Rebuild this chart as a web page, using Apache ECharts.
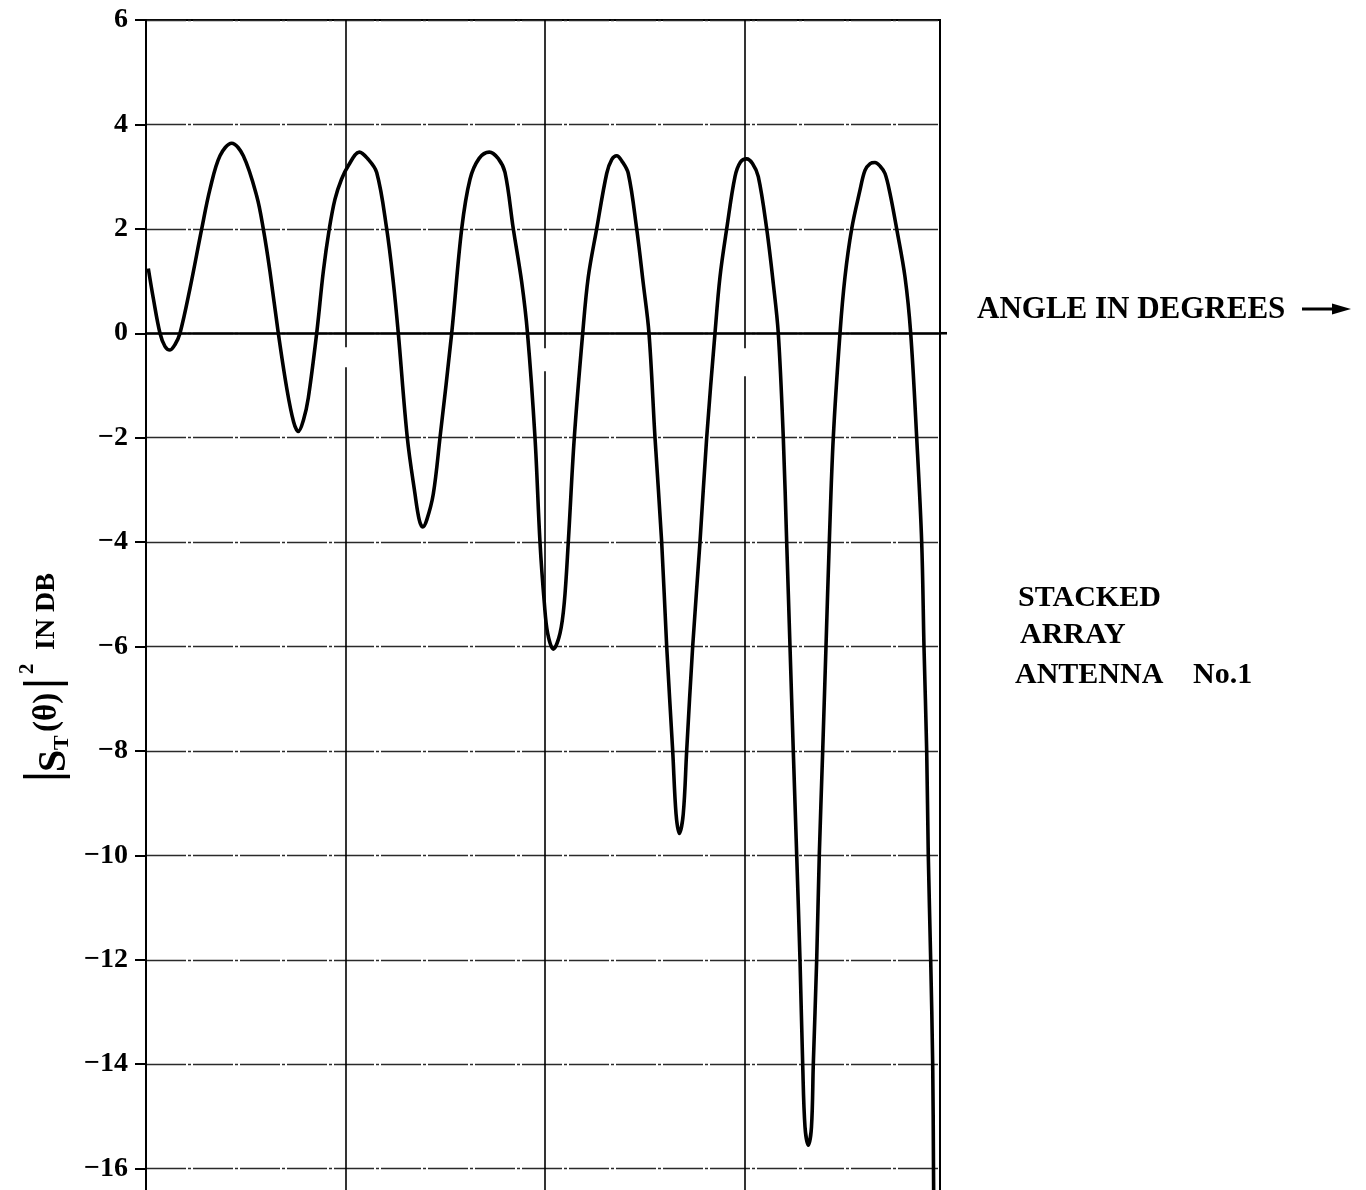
<!DOCTYPE html>
<html>
<head>
<meta charset="utf-8">
<script src="https://cdn.jsdelivr.net/npm/echarts@6/dist/echarts.min.js"></script>
<style>
  html, body { margin: 0; padding: 0; background: #fff; }
  #chart { width: 1366px; height: 1190px; }
</style>
</head>
<body>
<div id="chart"></div>
<script>
// ---- data (x: angle in chart units, gridlines every 1; y: |S_T(θ)|² in dB) ----
const angle = [
  0.0115, 0.0366, 0.0702, 0.095, 0.1203, 0.145, 0.1704, 0.2206, 0.2792, 0.3208,
  0.3709, 0.4296, 0.4877, 0.5549, 0.5880, 0.6216, 0.6632, 0.7053, 0.74, 0.7634,
  0.79, 0.8135, 0.8556, 0.8887, 0.9188, 0.9474, 0.98, 1.0140, 1.0692, 1.11,
  1.1564, 1.2065, 1.2396, 1.2647, 1.3098, 1.3484, 1.370, 1.3870, 1.407, 1.4401,
  1.4737, 1.5323, 1.5825, 1.6241, 1.67, 1.7208, 1.765, 1.7995, 1.8411, 1.8832,
  1.9123, 1.9499, 1.9749, 1.9965, 2.0135, 2.0416, 2.0752, 2.0967, 2.1168, 2.1469,
  2.1890, 2.2170, 2.2591, 2.3093, 2.335, 2.3594, 2.385, 2.4175, 2.4596, 2.4927,
  2.5213, 2.5514, 2.5849, 2.6100, 2.6401, 2.657, 2.6732, 2.693, 2.7102,
  2.7403, 2.7769, 2.8105, 2.8521, 2.8772, 2.9108, 2.9524, 2.98, 3.0110,
  3.04, 3.0692, 3.1113, 3.1444, 3.1694, 3.1945, 3.2115, 3.2281, 3.2446, 3.2617,
  3.2782, 3.2917, 3.3033, 3.3198, 3.3358, 3.3449, 3.3619, 3.3749, 3.3920, 3.4085,
  3.4251, 3.4451, 3.4787, 3.5038, 3.5373, 3.5789, 3.6040, 3.63, 3.6541, 3.68,
  3.7043, 3.7293, 3.7629, 3.8045, 3.8331, 3.8632, 3.8882, 3.8997, 3.9133, 3.9213,
  3.9333, 3.9434, 3.9474, 3.9499
];
const gainDb = [
  1.24, 0.67, 0.0, -0.25, -0.32, -0.22, 0.0, 0.86, 2.0, 2.76,
  3.40, 3.64, 3.40, 2.63, 2.0, 1.18, 0.0, -1.05, -1.7, -1.88,
  -1.65, -1.24, 0.0, 1.18, 2.0, 2.57, 2.95, 3.21, 3.47, 3.35,
  3.08, 2.0, 0.98, 0.0, -2.0, -3.08, -3.58, -3.71, -3.58, -3.08,
  -2.0, 0.0, 2.0, 2.95, 3.35, 3.47, 3.35, 3.08, 2.0, 0.98,
  0.0, -2.0, -4.0, -5.16, -5.75, -6.05, -5.75, -5.16, -4.0, -2.0,
  0.0, 1.08, 2.0, 3.06, 3.33, 3.40, 3.3, 3.06, 2.0, 0.95,
  0.0, -2.0, -4.0, -6.0, -8.0, -9.21, -9.58, -9.21, -8.0,
  -6.0, -4.0, -2.0, 0.0, 1.08, 2.0, 3.0, 3.28, 3.34,
  3.25, 3.0, 2.0, 0.95, 0.0, -2.0, -4.0, -6.0, -8.0, -10.0,
  -12.0, -14.0, -15.2, -15.55, -15.2, -14.0, -12.0, -10.0, -8.0, -6.0,
  -4.0, -2.0, 0.0, 1.08, 2.0, 2.74, 3.12, 3.25, 3.27, 3.2,
  3.06, 2.68, 2.0, 1.08, 0.0, -2.0, -4.0, -6.0, -8.0, -10.0,
  -12.0, -14.0, -16.0, -17.5
];
const yMin = -18, yMax = 6, yStep = 2;   // labelled ticks: -16 ... 6 (frame is cut just below -16)
const xMin = 0, xMax = 3.98, xStep = 1;
const zeroLineGaps = [[1, 14, 34], [2, 15, 38], [3, 15, 43]]; // scan gaps below the 0 line

const SERIF = '"Liberation Serif", "DejaVu Serif", serif';

const chart = echarts.init(document.getElementById('chart'), null, { renderer: 'canvas' });

chart.setOption({
  animation: false,
  backgroundColor: '#ffffff',
  grid: {
    left: 146, top: 20, width: 794, height: 1253,
    outerBoundsMode: 'none', containLabel: false,
    show: true, borderColor: '#000', borderWidth: 2, backgroundColor: 'transparent'
  },
  xAxis: {
    type: 'value', min: xMin, max: xMax, interval: xStep,
    axisLine: { show: true, onZero: true, lineStyle: { color: '#000', width: 2.6 } },
    axisTick: { show: false },
    axisLabel: { show: false },
    splitLine: { show: true, lineStyle: { color: '#000', width: 1.6 } }
  },
  yAxis: {
    type: 'value', min: yMin, max: yMax, interval: yStep,
    axisLine: { show: true, onZero: false, lineStyle: { color: '#000', width: 2 } },
    axisTick: { show: true, length: 11, lineStyle: { color: '#000', width: 2 } },
    axisLabel: {
      margin: 18, color: '#000', fontFamily: SERIF, fontWeight: 'bold', fontSize: 28,
      formatter: v => (v === yMin ? '' : (v < 0 ? '\u2212' + Math.abs(v) : String(v)))
    },
    splitLine: { show: true, lineStyle: { color: '#2a2a2a', width: 1.3, type: [40, 2, 3, 2] } }
  },
  series: [{
    type: 'line',
    data: angle.map((a, i) => [a, gainDb[i]]),
    symbol: 'none', showSymbol: false,
    smooth: 0.35,
    clip: true,
    lineStyle: { color: '#000', width: 3.6 },
    z: 5
  }]
});

// decorations placed through the chart's own coordinate system
const g = [];
zeroLineGaps.forEach(([xv, a, b]) => {
  const p = chart.convertToPixel({ gridIndex: 0 }, [xv, 0]);
  g.push({ type: 'rect', z: 50, shape: { x: p[0] - 3, y: p[1] + a, width: 6, height: b - a },
           style: { fill: '#fff' } });
});
const pEnd = chart.convertToPixel({ gridIndex: 0 }, [xMax, 0]);
g.push({ type: 'line', z: 50, shape: { x1: pEnd[0], y1: pEnd[1], x2: pEnd[0] + 7, y2: pEnd[1] },
         style: { stroke: '#000', lineWidth: 2.6 } });

// axis name  |S_T(θ)|² IN DB  (rotated, reads bottom to top)
g.push({
  type: 'group', x: 57, y: 778, rotation: Math.PI / 2, z: 60,
  children: [
    { type: 'line', shape: { x1: 1.5, y1: -34, x2: 1.5, y2: 13 }, style: { stroke: '#000', lineWidth: 3.5 } },
    { type: 'text', style: { text: 'S', x: 6, y: -2.5, font: 'bold 40px ' + SERIF, fill: '#000', align: 'left', verticalAlign: 'middle' } },
    { type: 'text', style: { text: 'T', x: 28, y: 5.6, font: 'bold 22px ' + SERIF, fill: '#000', align: 'left', verticalAlign: 'middle' } },
    { type: 'text', style: { text: '(θ)', x: 46, y: -9.5, font: 'bold 33px ' + SERIF, fill: '#000', align: 'left', verticalAlign: 'middle' } },
    { type: 'line', shape: { x1: 94.5, y1: -34, x2: 94.5, y2: 11 }, style: { stroke: '#000', lineWidth: 3.5 } },
    { type: 'text', style: { text: '2', x: 104, y: -29, font: 'bold 21px ' + SERIF, fill: '#000', align: 'left', verticalAlign: 'middle' } },
    { type: 'text', style: { text: 'IN DB', x: 128, y: -9.8, font: 'bold 28px ' + SERIF, fill: '#000', align: 'left', verticalAlign: 'middle' } }
  ]
});

// right-hand annotations
g.push({ type: 'text', z: 60, style: { text: 'ANGLE IN DEGREES', x: 977, y: 310, font: 'bold 31px ' + SERIF, fill: '#000', align: 'left', verticalAlign: 'middle' } });
g.push({ type: 'line', z: 60, shape: { x1: 1302, y1: 309, x2: 1336, y2: 309 }, style: { stroke: '#000', lineWidth: 3 } });
g.push({ type: 'polygon', z: 60, shape: { points: [[1332, 303.5], [1351, 309], [1332, 314.5]] }, style: { fill: '#000' } });
g.push({ type: 'text', z: 60, style: { text: 'STACKED', x: 1018, y: 598, font: 'bold 30px ' + SERIF, fill: '#000', align: 'left', verticalAlign: 'middle' } });
g.push({ type: 'text', z: 60, style: { text: 'ARRAY', x: 1020, y: 635, font: 'bold 30px ' + SERIF, fill: '#000', align: 'left', verticalAlign: 'middle' } });
g.push({ type: 'text', z: 60, style: { text: 'ANTENNA', x: 1015, y: 675.5, font: 'bold 30px ' + SERIF, fill: '#000', align: 'left', verticalAlign: 'middle' } });
g.push({ type: 'text', z: 60, style: { text: 'No.1', x: 1193, y: 675.5, font: 'bold 30px ' + SERIF, fill: '#000', align: 'left', verticalAlign: 'middle' } });

chart.setOption({ graphic: g });
</script>
</body>
</html>
